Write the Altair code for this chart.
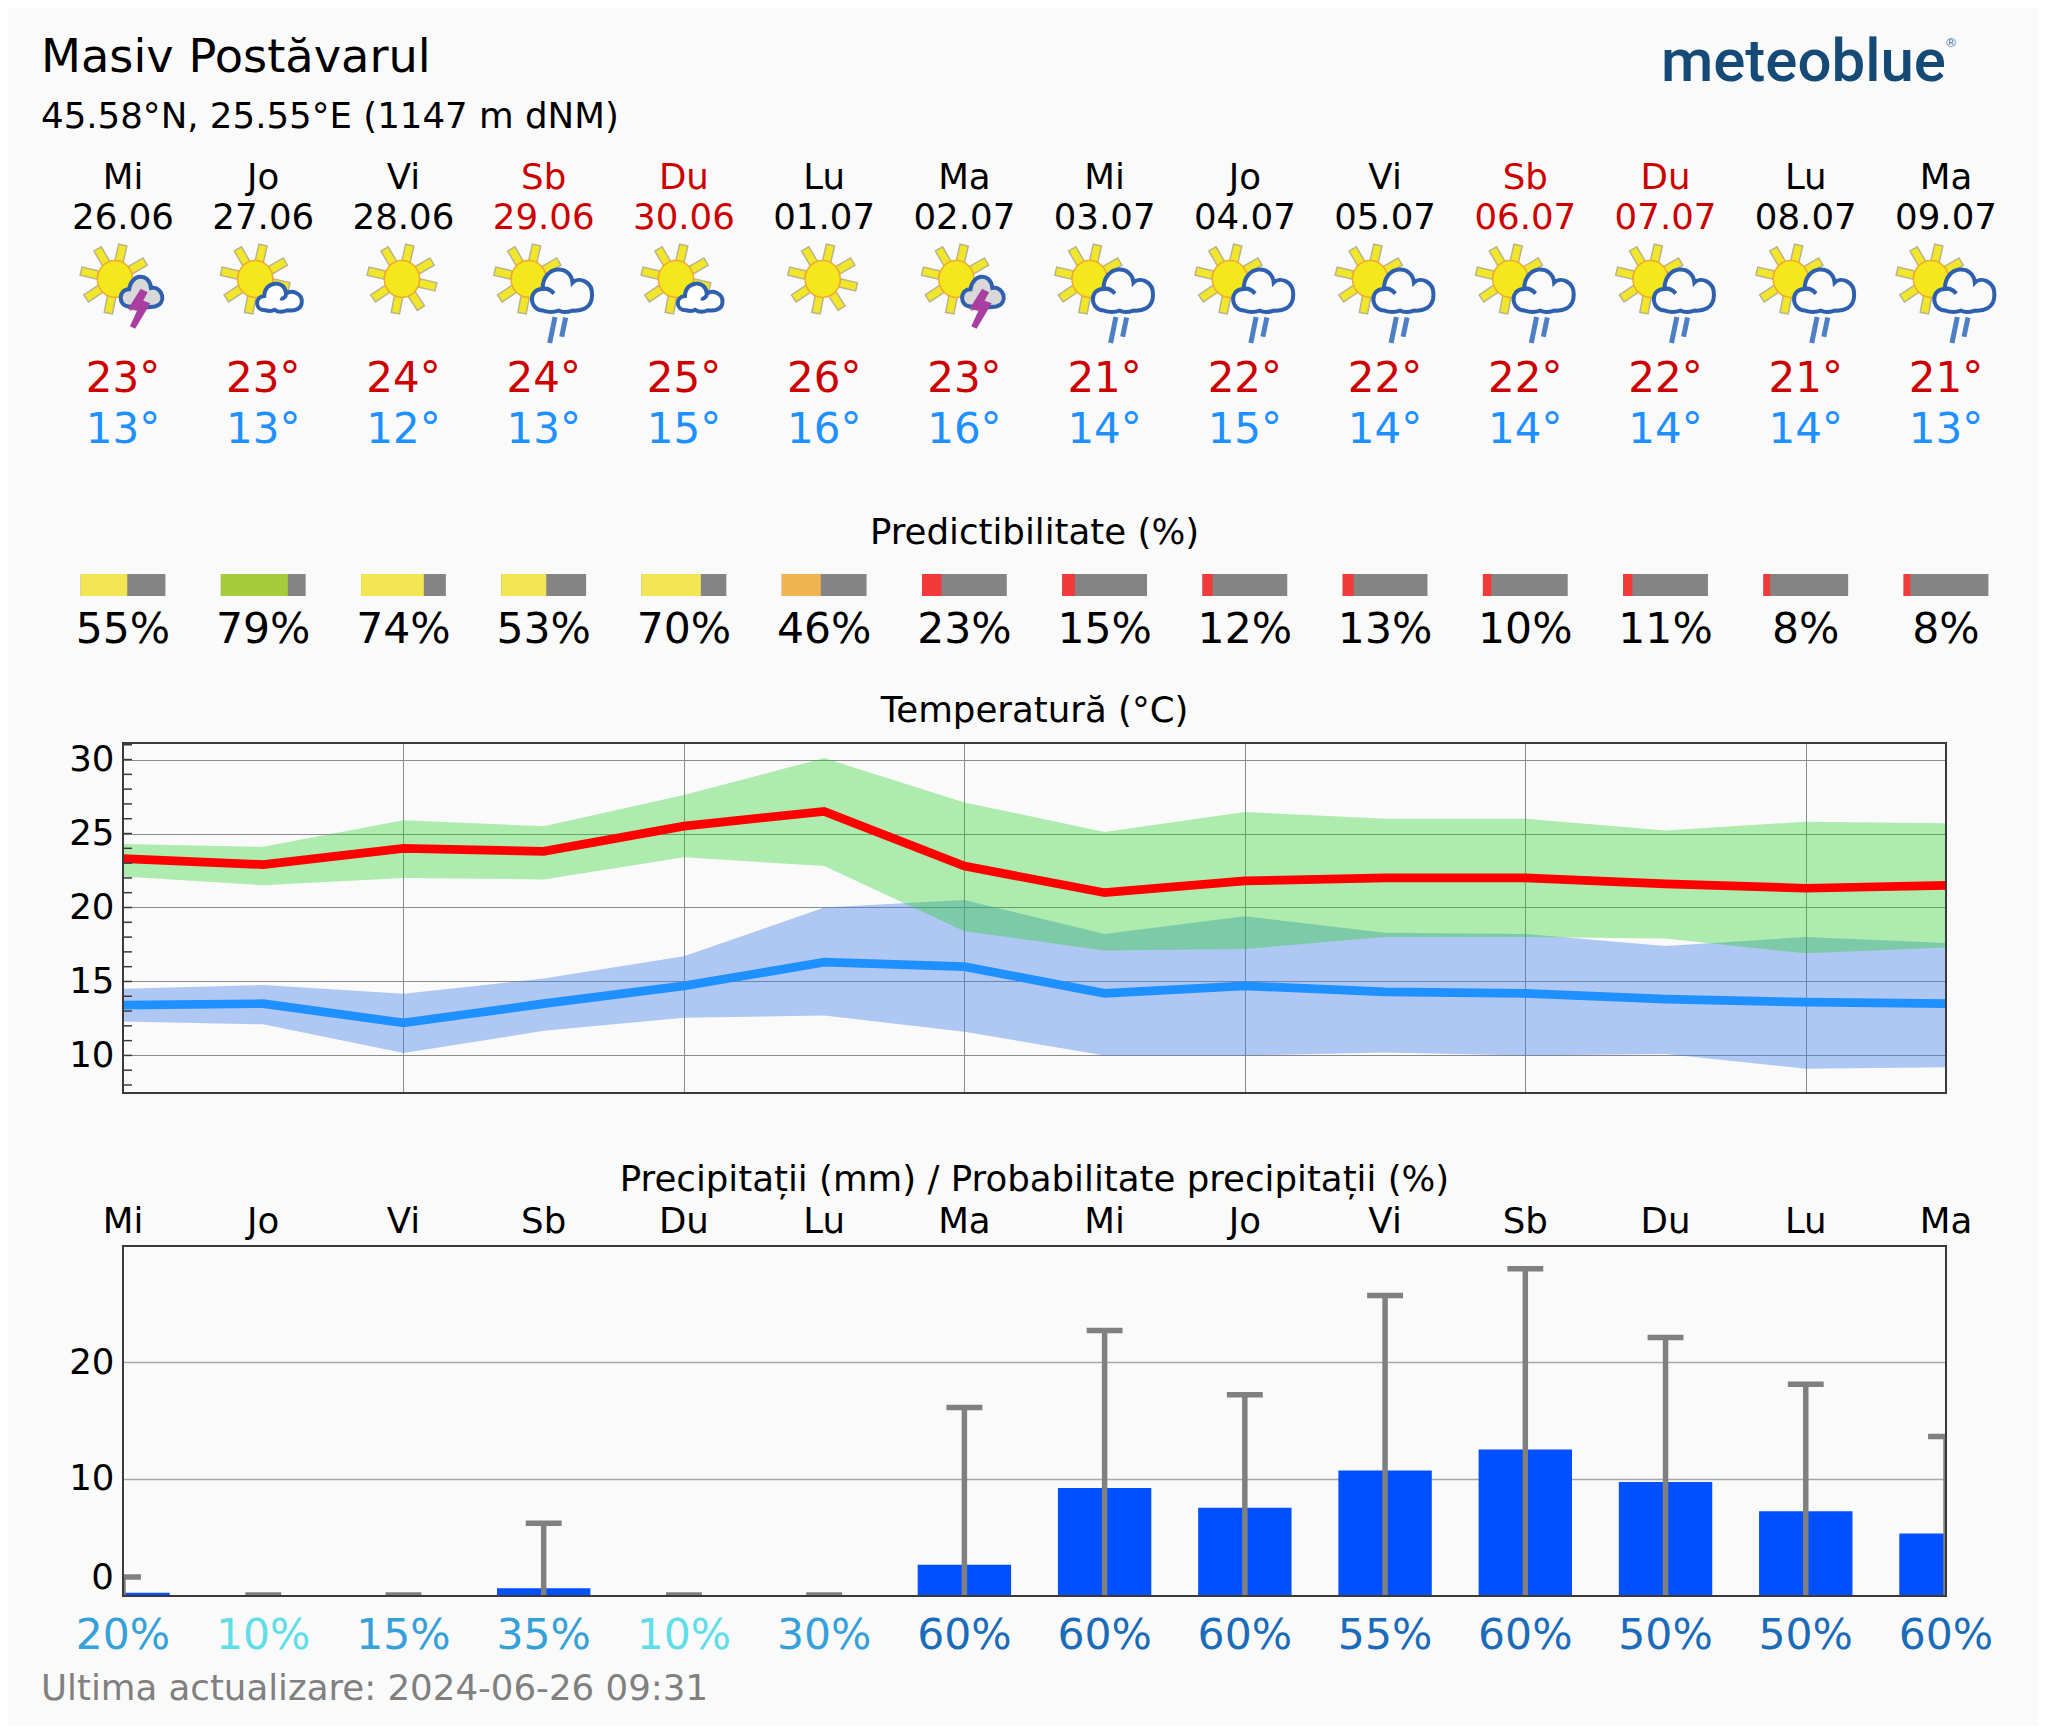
import math
import altair as alt
import pandas as pd

W = 1823
FONT = "DejaVu Sans"
BG = "#fafafa"

weekday = ["Mi", "Jo", "Vi", "Sb", "Du", "Lu", "Ma", "Mi", "Jo", "Vi", "Sb", "Du", "Lu", "Ma"]
dates = ["26.06", "27.06", "28.06", "29.06", "30.06", "01.07", "02.07", "03.07", "04.07", "05.07", "06.07", "07.07", "08.07", "09.07"]
icon = ["storm", "cloud", "sun", "rain", "cloud", "sun", "storm", "rain", "rain", "rain", "rain", "rain", "rain", "rain"]
tmax_label = [23, 23, 24, 24, 25, 26, 23, 21, 22, 22, 22, 22, 21, 21]
tmin_label = [13, 13, 12, 13, 15, 16, 16, 14, 15, 14, 14, 14, 14, 13]
predict = [55, 79, 74, 53, 70, 46, 23, 15, 12, 13, 10, 11, 8, 8]
predict_color = ["#f2e655", "#a6cb3d", "#f2e655", "#f2e655", "#f2e655", "#efb44f", "#f23a3a", "#f23a3a", "#f23a3a",
                 "#f23a3a", "#f23a3a", "#f23a3a", "#f23a3a", "#f23a3a"]
tmax = [23.3, 22.9, 24.0, 23.8, 25.5, 26.5, 22.8, 21.0, 21.8, 22.0, 22.0, 21.6, 21.3, 21.5]
tmax_hi = [24.3, 24.1, 25.9, 25.5, 27.6, 30.1, 27.1, 25.1, 26.45, 26.0, 26.0, 25.2, 25.8, 25.7]
tmax_lo = [22.1, 21.5, 22.0, 21.9, 23.4, 22.8, 18.4, 17.1, 17.2, 18.0, 18.0, 17.9, 16.9, 17.3]
tmin = [13.4, 13.5, 12.2, 13.5, 14.7, 16.3, 16.0, 14.2, 14.7, 14.3, 14.2, 13.8, 13.6, 13.5]
tmin_hi = [14.5, 14.76, 14.17, 15.2, 16.7, 20.0, 20.5, 18.2, 19.4, 18.3, 18.2, 17.4, 18.0, 17.6]
tmin_lo = [12.3, 12.1, 10.16, 11.66, 12.54, 12.7, 11.6, 10.0, 10.0, 10.2, 10.0, 10.1, 9.1, 9.2]
rain = [0.2, 0, 0, 0.6, 0, 0, 2.6, 9.2, 7.5, 10.7, 12.5, 9.7, 7.2, 5.3]
rain_hi = [1.55, 0.02, 0.02, 6.16, 0.02, 0.02, 16.1, 22.7, 17.2, 25.7, 28.0, 22.1, 18.1, 13.6]
rain_prob = [20, 10, 15, 35, 10, 30, 60, 60, 60, 55, 60, 50, 50, 60]
prob_color = ["#36a0d8", "#60dee8", "#36a0d8", "#36a0d8", "#60dee8", "#36a0d8", "#1a6cb8", "#1a6cb8", "#1a6cb8",
              "#1a6cb8", "#1a6cb8", "#1a6cb8", "#1a6cb8", "#1a6cb8"]
temp_ticks = list(range(8, 32))

df = pd.DataFrame({
    "i": range(14), "weekday": weekday, "date": dates, "icon": icon,
    "hi_txt": [f"{v}°" for v in tmax_label], "lo_txt": [f"{v}°" for v in tmin_label],
    "predict": predict, "predict_txt": [f"{v}%" for v in predict], "predict_color": predict_color,
    "tmax": tmax, "tmax_hi": tmax_hi, "tmax_lo": tmax_lo,
    "tmin": tmin, "tmin_hi": tmin_hi, "tmin_lo": tmin_lo,
    "rain": rain, "rain_hi": rain_hi,
    "prob_txt": [f"{v}%" for v in rain_prob], "prob_color": prob_color,
    "weekend": [d in ("Sb", "Du") for d in weekday],
})
df["day_color"] = ["#cc0000" if w else "#000000" for w in df["weekend"]]
df["bar_l"] = df["i"] - 0.3024
df["bar_m"] = df["bar_l"] + 0.6048 * df["predict"] / 100
df["bar_r"] = df["i"] + 0.3024
df["rain_l"] = df["i"] - 0.333
df["rain_r"] = df["i"] + 0.333
df["cap_l"] = df["i"] - 0.128
df["cap_r"] = df["i"] + 0.128
ticks_df = pd.DataFrame({"t": temp_ticks})

xscale = alt.Scale(domain=[0, 13], nice=False, zero=False)
X = alt.X("i:Q", scale=xscale, axis=None)


def col_text(field, y, size, color=None, color_field=None):
    enc = {"x": X, "y": alt.value(y), "text": alt.Text(f"{field}:N")}
    if color_field:
        enc["color"] = alt.Color(f"{color_field}:N", scale=None)
    kw = {"color": color} if color else {}
    return alt.Chart(df).mark_text(baseline="alphabetic", align="center", font=FONT, fontSize=size, **kw).encode(**enc)


def fixed_text(txt, x, y, size, color="#000000", align="left", font=FONT, weight="normal"):
    return alt.Chart(df.head(1)).mark_text(text=txt, baseline="alphabetic", align=align, font=font, fontSize=size,
                                           color=color, fontWeight=weight).encode(x=alt.value(x), y=alt.value(y))


def poly(points):
    return "M" + " L".join(f"{px:.3f},{py:.3f}" for px, py in points) + " Z"


def ray_path():
    parts = []
    for deg in (30, 77, 120, 167, 214, 259, 303, 347):
        a = math.radians(deg)
        ca, sa = math.cos(a), -math.sin(a)
        nx, ny = -sa, ca
        r1, r2, hw = 0.44, 0.87, 0.105
        parts.append(poly([(r1 * ca + hw * nx, r1 * sa + hw * ny), (r2 * ca + hw * nx, r2 * sa + hw * ny),
                           (r2 * ca - hw * nx, r2 * sa - hw * ny), (r1 * ca - hw * nx, r1 * sa - hw * ny)]))
    return " ".join(parts)


SUN_BODY = "M-0.44,0 A0.44,0.46 0 1,1 0.44,0 A0.44,0.46 0 1,1 -0.44,0 Z"
CLOUD = ("M-0.6,0.6 C-1.05,0.6 -1.1,-0.1 -0.62,-0.1 C-0.6,-0.9 0.3,-0.9 0.35,-0.3 C0.55,-0.5 1.0,-0.35 0.98,0.1 "
         "C0.98,0.55 0.6,0.62 0.35,0.6 C0.2,0.65 0.05,0.68 -0.1,0.6 C-0.25,0.65 -0.45,0.65 -0.6,0.6 Z "
         "M-0.62,-0.1 C-0.4,-0.15 -0.3,0 -0.25,0.05")
CLOUD_SMALL = ("M-0.6,0.62 C-1.05,0.62 -1.1,0.05 -0.65,0.0 C-0.65,-0.65 0.25,-0.75 0.3,-0.1 C0.55,-0.3 1.0,-0.1 0.98,0.25 "
               "C0.98,0.6 0.6,0.66 0.35,0.62 C0.15,0.7 -0.05,0.7 -0.2,0.6 C-0.3,0.66 -0.45,0.66 -0.6,0.62 Z "
               "M0.3,-0.1 C0.3,0.05 0.15,0.15 0.05,0.1")
CLOUD_STORM = ("M-0.55,0.62 C-1.05,0.62 -1.05,-0.15 -0.55,-0.15 C-0.45,-0.85 0.35,-0.9 0.42,-0.2 C0.95,-0.3 1.15,0.5 0.6,0.62 "
               "C0.2,0.67 -0.2,0.67 -0.55,0.62 Z")
BOLT = poly([(0.1, -0.9), (0.35, -0.78), (0.13, -0.37), (0.47, -0.25), (-0.2, 0.88), (-0.37, 0.8), (-0.03, 0.05), (-0.45, -0.03)])
DROPS = "M-0.135,-0.65 L-0.4,0.65 M0.4,-0.62 L0.2,0.34"

SUNY = 279 - 8
RAYS = ray_path()


def shape_layer(kinds, path, box, dx, y, **style):
    d = df[df["icon"].isin(kinds)]
    return alt.Chart(d).mark_point(shape=path, size=box * box, xOffset=dx, opacity=1, **style).encode(x=X, y=alt.value(y))


def sun_layers(kinds, dx):
    return [
        shape_layer(kinds, RAYS, 80, dx, SUNY, filled=True, fill="#f2e62a", stroke="#b8b48a", strokeWidth=1.5),
        shape_layer(kinds, SUN_BODY, 80, dx, SUNY, filled=True, fill="#f3e81b", stroke="#f5a82a", strokeWidth=1.5),
    ]


icons = []
icons += sun_layers(["sun"], -1.5)
icons += sun_layers(["cloud", "storm"], -8)
icons += sun_layers(["rain"], -15)
icons += [
    shape_layer(["cloud"], CLOUD_SMALL, 46, 16, 296 - 8, filled=True, fill="#ffffff", stroke="#2f60ae", strokeWidth=4),
    shape_layer(["storm"], CLOUD_STORM, 45, 18.5, 292.5 - 8, filled=True, fill="#d8d8d8", stroke="#2f60ae", strokeWidth=4),
    shape_layer(["storm"], BOLT, 42, 16, 309 - 8, filled=True, fill="#a83fa0", stroke="#a83fa0", strokeWidth=2),
    shape_layer(["rain"], CLOUD, 62, 18, 292 - 8, filled=True, fill="#fafafa", stroke="#2f60ae", strokeWidth=4),
    shape_layer(["rain"], DROPS, 40, 14, 330 - 8, filled=False, stroke="#4e7fc4", strokeWidth=5),
]

BASE = 35.6

head = alt.layer(
    fixed_text("Masiv Postăvarul", -82, 72 - 8, 46.3),
    fixed_text("45.58°N, 25.55°E (1147 m dNM)", -82, 128 - 8, BASE),
    fixed_text("meteoblue", W, 81 - 8, 60, color="#144a75", align="right", font="Roboto", weight=500),
    fixed_text("®", W + 5, 47 - 8, 13, color="#4a7ba6", align="center"),
    col_text("weekday", 189 - 8, BASE, color_field="day_color"),
    col_text("date", 229 - 8, BASE, color_field="day_color"),
    *icons,
    col_text("hi_txt", 392 - 8, 42, color="#cc0000"),
    col_text("lo_txt", 443 - 8, 42, color="#1e90ff"),
    fixed_text("Predictibilitate (%)", W / 2, 544 - 8, BASE, align="center"),
    alt.Chart(df).mark_rect(color="#848484").encode(x=alt.X("bar_l:Q", scale=xscale, axis=None), x2="bar_r:Q",
                                                    y=alt.value(574 - 8), y2=alt.value(596 - 8)),
    alt.Chart(df).mark_rect().encode(x=alt.X("bar_l:Q", scale=xscale, axis=None), x2="bar_m:Q",
                                     y=alt.value(574 - 8), y2=alt.value(596 - 8),
                                     color=alt.Color("predict_color:N", scale=None)),
    col_text("predict_txt", 643 - 8, 42.5),
    fixed_text("Temperatură (°C)", W / 2, 722 - 8, BASE, align="center"),
).properties(width=W, height=734.5, view=alt.ViewBackground(stroke=None))

Y_H = 350
grid_x = alt.Axis(values=[2, 4, 6, 8, 10, 12], labels=False, ticks=False, domain=False, grid=True, title=None,
                  gridColor="#8a8a8a", gridWidth=1)


def frame():
    return alt.Chart(df.head(1)).mark_rect(fillOpacity=0, stroke="#3a3a3a", strokeWidth=2).encode(
        x=alt.value(0), x2=alt.value(W), y=alt.value(0), y2=alt.value(Y_H))


T_Y = alt.Scale(domain=[7.46, 31.12], nice=False, zero=False)
temp_axis = alt.Axis(values=[10, 15, 20, 25, 30], ticks=False, domain=False, grid=True, gridColor="#8a8a8a", gridWidth=1,
                     labelFontSize=BASE, labelFont=FONT, labelColor="#000000", labelPadding=9, title=None)
TX = alt.X("i:Q", scale=xscale, axis=grid_x)
temp = alt.layer(
    alt.Chart(df).mark_area(color="rgb(60,122,232)", opacity=0.4, clip=True).encode(
        x=TX, y=alt.Y("tmin_lo:Q", scale=T_Y, axis=temp_axis), y2="tmin_hi:Q"),
    alt.Chart(df).mark_area(color="rgb(36,208,36)", opacity=0.355, clip=True).encode(
        x=TX, y=alt.Y("tmax_lo:Q", scale=T_Y, axis=temp_axis), y2="tmax_hi:Q"),
    alt.Chart(df).mark_line(color="#ff0000", strokeWidth=8.7, clip=True).encode(x=TX, y=alt.Y("tmax:Q", scale=T_Y, axis=temp_axis)),
    alt.Chart(df).mark_line(color="#1e90ff", strokeWidth=8.7, clip=True).encode(x=TX, y=alt.Y("tmin:Q", scale=T_Y, axis=temp_axis)),
    alt.Chart(ticks_df).mark_rule(color="#3a3a3a", strokeWidth=1.5).encode(
        x=alt.value(0), x2=alt.value(9), y=alt.Y("t:Q", scale=T_Y, axis=temp_axis)),
    frame(),
).properties(width=W, height=Y_H, view=alt.ViewBackground(stroke=None))

mid = alt.layer(
    fixed_text("Precipitații (mm) / Probabilitate precipitații (%)", W / 2, 1190 - 1092, BASE, align="center"),
    col_text("weekday", 1231.5 - 1092, BASE),
).properties(width=W, height=153, view=alt.ViewBackground(stroke=None))

P_Y = alt.Scale(domain=[-0.07, 29.95], nice=False, zero=False)
prec_axis = alt.Axis(values=[10, 20], ticks=False, domain=False, grid=True, gridColor="#a8a8a8", gridWidth=1.5,
                     labelFontSize=BASE, labelFont=FONT, labelColor="#000000", labelPadding=9, title=None)
prec = alt.layer(
    alt.Chart(df[df["rain"] > 0]).mark_rect(color="#0050ff", clip=True).encode(
        x=alt.X("rain_l:Q", scale=xscale, axis=grid_x), x2="rain_r:Q",
        y=alt.Y("rain:Q", scale=P_Y, axis=prec_axis), y2=alt.datum(0)),
    alt.Chart(df).mark_rule(color="#808080", strokeWidth=5.5, clip=True).encode(
        x=TX, y=alt.Y("rain_hi:Q", scale=P_Y, axis=prec_axis), y2=alt.datum(0)),
    alt.Chart(df).mark_rule(color="#808080", strokeWidth=5.5, clip=True).encode(
        x=alt.X("cap_l:Q", scale=xscale, axis=grid_x), x2="cap_r:Q", y=alt.Y("rain_hi:Q", scale=P_Y, axis=prec_axis)),
    frame(),
    fixed_text("0", -9, 1588 - 1245, BASE, align="right"),
    col_text("prob_txt", 1648 - 1245, 42.5, color_field="prob_color"),
    fixed_text("Ultima actualizare: 2024-06-26 09:31", -82, 1699 - 1245, BASE, color="#808080"),
).properties(width=W, height=Y_H, view=alt.ViewBackground(stroke=None))

chart = alt.vconcat(head, temp, mid, prec, spacing=0, bounds="flush").properties(
    padding={"left": 33, "top": 0, "right": 36, "bottom": 18}, background=BG
).configure_view(stroke=None)

chart.save("out.html", embed_options={"renderer": "svg", "actions": False})
